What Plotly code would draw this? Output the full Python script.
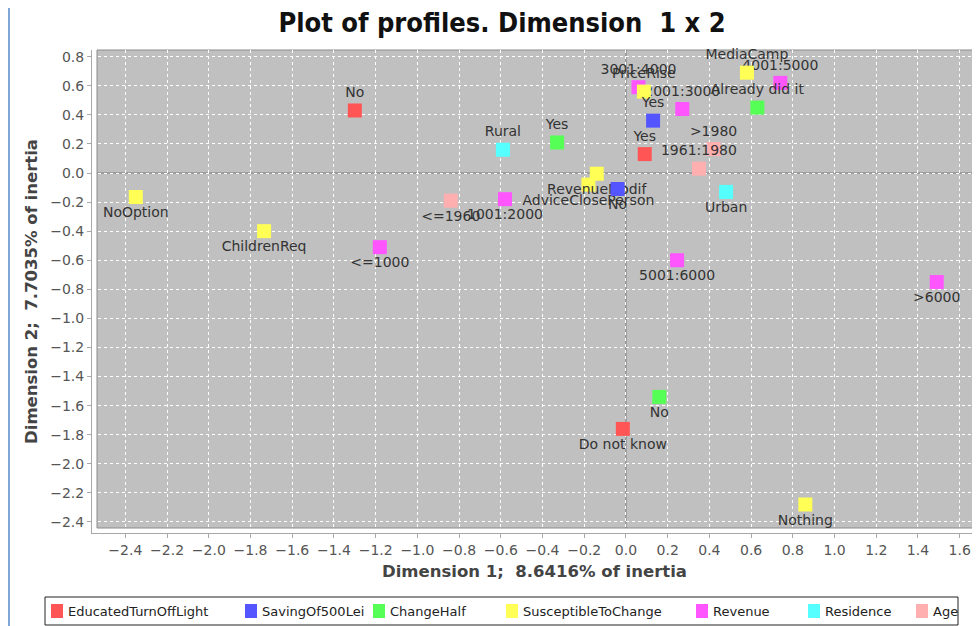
import plotly.graph_objects as go

# The page adds an 8 px body margin, so page coordinates are offset by 8.
OFF = 8
W, H = 980 - OFF, 626 - OFF
ML, MR, MT, MB = 92 - OFF, 3, 50 - OFF, 93

def px(x):
    return (x - OFF - ML) / (W - ML - MR)

def py(y):
    return (H - MB - (y - OFF)) / (H - MT - MB)

# ---------------- data ----------------
series_names = ["EducatedTurnOffLight", "SavingOf500Lei", "ChangeHalf",
                "SusceptibleToChange", "Revenue", "Residence", "Age"]
series_colors = ["#FF5555", "#5555FF", "#55FF55", "#FFFF55", "#FF55FF", "#55FFFF", "#FFAFAF"]

edu_labels = ["No", "Yes", "Do not know"]
edu_x = [-1.30, 0.09, -0.015]
edu_y = [0.43, 0.13, -1.76]

sav_labels = ["Yes", "No"]
sav_x = [0.13, -0.04]
sav_y = [0.36, -0.11]

chg_labels = ["Yes", "Already did it", "No"]
chg_x = [-0.33, 0.63, 0.16]
chg_y = [0.21, 0.45, -1.54]

sus_labels = ["MediaCamp", "PriceRise", "RevenueModif", "AdviceClosePerson",
              "NoOption", "ChildrenReq", "Nothing"]
sus_x = [0.58, 0.086, -0.14, -0.18, -2.35, -1.735, 0.86]
sus_y = [0.69, 0.56, -0.005, -0.08, -0.165, -0.40, -2.28]

rev_labels = ["<=1000", "1001:2000", "2001:3000", "3001:4000", "4001:5000", "5001:6000", ">6000"]
rev_x = [-1.18, -0.58, 0.27, 0.06, 0.74, 0.245, 1.49]
rev_y = [-0.51, -0.18, 0.44, 0.59, 0.62, -0.60, -0.75]

res_labels = ["Rural", "Urban"]
res_x = [-0.59, 0.48]
res_y = [0.16, -0.13]

age_labels = ["<=1960", "1961:1980", ">1980"]
age_x = [-0.84, 0.35, 0.42]
age_y = [-0.19, 0.03, 0.165]

series_data = [
    (edu_labels, edu_x, edu_y),
    (sav_labels, sav_x, sav_y),
    (chg_labels, chg_x, chg_y),
    (sus_labels, sus_x, sus_y),
    (rev_labels, rev_x, rev_y),
    (res_labels, res_x, res_y),
    (age_labels, age_x, age_y),
]

title_text = "Plot of profiles. Dimension&nbsp; 1 x 2"
x_title = "Dimension 1;&nbsp; 8.6416% of inertia"
y_title = "Dimension 2;&nbsp; 7.7035% of inertia"

FONT = "DejaVu Sans"

fig = go.Figure()

# draw in reverse order so the first series is on top
for i in reversed(range(len(series_names))):
    labels, xs, ys = series_data[i]
    fig.add_trace(go.Scatter(
        x=xs, y=ys, mode="markers+text", name=series_names[i],
        text=labels,
        textposition=["top center" if v >= 0 else "bottom center" for v in ys],
        textfont=dict(family=FONT, size=14, color="#333333"),
        marker=dict(symbol="square", size=14, color=series_colors[i], line=dict(width=0)),
        showlegend=False, cliponaxis=False,
    ))

shapes = []
# plot background rectangle (offset from axes like the reference)
shapes.append(dict(type="rect", xref="paper", yref="paper",
                   x0=px(97), x1=1, y0=py(528), y1=1,
                   fillcolor="#C0C0C0", line=dict(color="#8c8c8c", width=1), layer="below"))
# zero lines
shapes.append(dict(type="line", xref="x", yref="paper", x0=0, x1=0, y0=py(528), y1=1,
                   line=dict(color="#7a7a7a", width=1), layer="between"))
shapes.append(dict(type="line", xref="paper", yref="y", x0=px(97), x1=1, y0=0, y1=0,
                   line=dict(color="#7a7a7a", width=1), layer="between"))
# outer window frame (left edge)
shapes.append(dict(type="line", xref="paper", yref="paper", x0=px(9), x1=px(9), y0=py(626), y1=py(8),
                   line=dict(color="#7fa7d6", width=2)))

# manual legend
shapes.append(dict(type="rect", xref="paper", yref="paper",
                   x0=px(45), x1=px(958), y0=py(625), y1=py(597),
                   fillcolor="white", line=dict(color="#222222", width=1)))
annotations = []
leg_sq = [57, 251, 379, 512, 702, 814, 922]
for i, name in enumerate(series_names):
    cx = leg_sq[i]
    shapes.append(dict(type="rect", xref="paper", yref="paper",
                       x0=px(cx - 6), x1=px(cx + 6), y0=py(618), y1=py(604),
                       fillcolor=series_colors[i], line=dict(width=0)))
    annotations.append(dict(x=px(cx + 9), y=py(611), xref="paper", yref="paper",
                            text=name, showarrow=False, xanchor="left", yanchor="middle",
                            font=dict(family=FONT, size=13, color="#222222")))

fig.update_layout(
    width=W, height=H,
    margin=dict(l=ML, r=MR, t=MT, b=MB),
    paper_bgcolor="white", plot_bgcolor="white",
    title=dict(text=title_text, x=(502 - OFF) / W, xref="container", xanchor="center",
               y=1 - (23 - OFF) / H, yref="container", yanchor="middle",
               font=dict(family="DejaVu Sans Condensed, DejaVu Sans", size=27, color="#111111", weight="bold")),
    xaxis=dict(range=[-2.560, 1.683], tick0=0, dtick=0.2, tickformat=".1f",
               showgrid=True, gridcolor="white", griddash="dot", gridwidth=1,
               zeroline=False, showline=True, linecolor="#a8a8a8", linewidth=1,
               ticks="outside", ticklen=4, tickcolor="#a8a8a8",
               tickfont=dict(family=FONT, size=14, color="#555555"),
               title=dict(text=x_title, standoff=8,
                          font=dict(family=FONT, size=16.5, color="#444444", weight="bold"))),
    yaxis=dict(range=[-2.476, 0.846], tick0=0, dtick=0.2, tickformat=".1f",
               showgrid=True, gridcolor="white", griddash="dot", gridwidth=1,
               zeroline=False, showline=True, linecolor="#a8a8a8", linewidth=1,
               ticks="outside", ticklen=4, tickcolor="#a8a8a8",
               tickfont=dict(family=FONT, size=14, color="#555555"),
               title=dict(text=y_title, standoff=8,
                          font=dict(family=FONT, size=16.5, color="#444444", weight="bold"))),
    shapes=shapes, annotations=annotations,
    showlegend=False,
)

fig.write_html("out.html")
